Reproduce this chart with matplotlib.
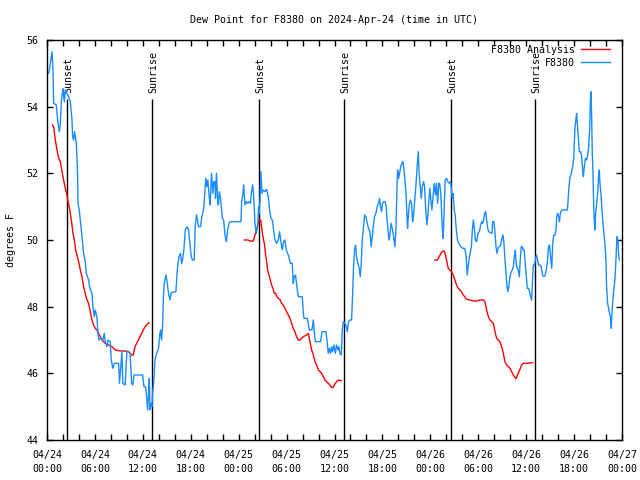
import matplotlib
matplotlib.use('Agg')
import matplotlib.pyplot as plt
from matplotlib.ticker import MultipleLocator

plt.rcParams['font.family'] = 'DejaVu Sans Mono'
plt.rcParams['font.size'] = 7.2

# hours since 2024-04-24 00:00 UTC
blue_hours = [
    0.21, 0.42, 0.54, 0.63, 0.75, 0.83, 1.17, 1.33, 1.54, 1.67, 1.79, 2.0, 2.17, 2.29, 2.5, 2.71, 2.92,
    3.13, 3.21, 3.33, 3.46, 3.67, 3.83, 3.88, 4.04, 4.17, 4.38, 4.58, 4.79, 4.92, 5.21, 5.33, 5.63,
    5.75, 5.92, 6.04, 6.25, 6.38, 6.5, 6.75, 7.0, 7.17, 7.29, 7.5, 7.63, 7.92, 8.04, 8.25, 8.42, 8.96,
    9.08, 9.38, 9.5, 9.79, 10.0, 10.21, 10.4, 10.6, 10.75, 10.9, 11.97, 12.14, 12.35, 12.47, 12.6,
    12.72, 12.81, 12.89, 13.02, 13.14, 13.22, 13.35, 13.52, 13.72, 13.97, 14.14, 14.22, 14.35, 14.47,
    14.56, 14.68, 14.89, 15.06, 15.22, 15.39, 15.56, 16.14, 16.31, 16.52, 16.72, 16.85, 16.97, 17.14,
    17.31, 17.56, 17.72, 17.89, 18.06, 18.22, 18.43, 18.56, 18.72, 18.85, 18.97, 19.22, 19.39, 19.56,
    19.68, 19.89, 20.02, 20.14, 20.31, 20.43, 20.6, 20.77, 20.89, 21.02, 21.1, 21.22, 21.39,
    21.46, 21.58, 21.71, 21.83, 21.96, 22.12, 22.29, 22.46, 22.62, 22.79, 22.96, 24.29, 24.37, 24.54,
    24.62, 24.79, 24.96, 25.12, 25.29, 25.46, 25.62, 25.75, 25.87, 26.04, 26.21, 26.37, 26.5, 26.58,
    26.67, 26.79, 26.92, 27.08, 27.29, 27.5, 27.71, 27.87, 28.04, 28.21, 28.37, 28.54, 28.75, 28.96,
    29.12, 29.29, 29.46, 29.62, 29.79, 29.96, 30.12, 30.29, 30.46, 30.71, 30.83, 30.96, 31.12, 31.29,
    31.46, 31.96, 32.1, 32.18, 32.6, 32.85, 33.18, 33.35, 33.45, 33.6, 34.26, 34.43, 34.93, 35.1,
    35.22, 35.35, 35.51, 35.64, 35.76, 35.93, 36.1, 36.26, 36.43, 36.55, 36.68, 36.85, 36.97, 37.1,
    37.26, 37.43, 37.6, 37.76, 37.93, 38.14, 38.26, 38.39, 38.51, 38.64, 38.76, 38.93, 39.1, 39.22,
    39.35, 39.47, 39.6, 39.76, 39.93, 40.1, 40.26, 40.43, 40.6, 40.72, 40.85, 41.01, 41.18, 41.35,
    41.51, 41.64, 41.76, 41.89, 42.01, 42.18, 42.34, 42.47, 42.57, 42.7, 42.82, 42.95, 43.07, 43.24,
    43.4, 43.57, 43.7, 43.82, 43.9, 44.03, 44.15, 44.28, 44.45, 44.57, 44.7, 44.82, 44.95, 45.07,
    45.15, 45.24, 45.36, 45.49, 45.65, 45.78, 45.9, 46.07, 46.2, 46.32, 46.49, 46.61, 46.74, 46.86,
    46.99, 47.15, 47.28, 47.4, 47.57, 47.7, 47.82, 47.95, 48.07, 48.2, 48.32, 48.49, 48.65, 48.78,
    48.9, 49.07, 49.2, 49.32, 49.49, 49.61, 49.74, 49.86, 50.03, 50.2, 50.36, 50.53, 50.65, 50.74,
    50.86, 50.99, 51.11, 51.24, 51.41, 51.57, 51.82, 52.07, 52.32, 52.49, 52.61, 52.74, 52.9,
    53.14, 53.26, 53.39, 53.51, 53.64, 53.8, 53.97, 54.14, 54.3, 54.43, 54.55, 54.68, 54.8, 54.93,
    55.05, 55.18, 55.3, 55.72, 55.8, 55.97, 56.1, 56.22, 56.35, 56.47, 56.64, 56.8, 56.97, 57.1,
    57.22, 57.35, 57.47, 57.6, 57.72, 57.85, 57.97, 58.14, 58.26, 58.39, 58.51, 58.64, 58.76, 58.89,
    59.01, 59.14, 59.26, 59.39, 59.51, 59.64, 59.76, 59.89, 60.01, 60.14, 60.3, 60.43, 60.55, 60.68,
    60.8, 60.89, 61.05, 61.18, 61.3, 61.43, 61.55, 61.72, 61.89, 62.05, 62.22, 62.39, 62.55, 62.68,
    62.8, 62.93, 62.99, 63.1, 63.2, 63.32, 63.45, 63.61, 63.74, 63.82, 63.95, 64.07, 64.16, 64.28,
    64.45, 65.16, 65.24, 65.36, 65.49, 65.61, 65.74, 65.86, 65.95, 66.03, 66.11, 66.24, 66.32, 66.41,
    66.53, 66.66, 66.82, 66.95, 67.07, 67.16, 67.28, 67.41, 67.57, 67.7, 67.82, 67.95, 68.03, 68.11,
    68.2, 68.28, 68.36, 68.45, 68.53, 68.61, 68.7, 68.82, 68.95, 69.07, 69.16, 69.24, 69.36, 69.49,
    69.61, 69.74, 69.86, 69.99, 70.07, 70.2, 70.32, 70.45, 70.57, 70.66, 70.74, 70.86, 70.99, 71.11,
    71.24, 71.37, 71.49, 71.57, 71.66,
]
blue_dewpt = [
    55.0, 55.3, 55.5, 55.65, 55.1, 54.1, 54.05, 53.6, 53.25, 53.5, 54.15, 54.55, 54.15, 54.5, 54.4, 54.3, 54.15,
    53.6, 53.1, 53.0, 53.25, 52.9, 52.0, 51.1, 50.9, 50.6, 50.1, 49.6, 49.35, 49.0, 48.8, 48.6, 48.4,
    48.0, 47.7, 47.9, 47.7, 47.2, 47.0, 47.05, 47.0, 47.2, 46.95, 46.8, 47.0, 46.95, 46.4, 46.15, 46.3, 46.3,
    45.7, 46.65, 45.7, 45.65, 46.65, 46.65, 46.6, 45.7, 45.65, 45.95, 45.95, 45.6, 45.6, 45.3, 44.9,
    45.4, 45.85, 44.9, 45.1, 45.0, 45.4, 45.7, 46.4, 46.6, 46.75, 47.2, 47.3, 47.0, 47.4,
    48.2, 48.7, 48.95, 48.7, 48.4, 48.2, 48.42, 48.45, 49.1, 49.5, 49.6, 49.3, 49.4, 49.7,
    50.3, 50.4, 50.3, 49.9, 49.5, 49.4, 49.4, 50.4, 50.75, 50.6, 50.4, 50.4, 50.7, 50.85,
    51.15, 51.85, 51.6, 51.8, 51.3, 51.05, 52.0, 51.4, 51.75, 51.75, 51.25, 52.0, 51.1,
    51.05, 51.45, 51.3, 51.0, 50.65, 50.6, 50.15, 49.95, 50.3, 50.5, 50.55, 50.55, 51.15, 51.4,
    51.65, 51.05, 51.15, 51.1, 51.15, 51.1, 51.45, 51.65, 51.35, 50.5, 50.2, 50.45, 51.0, 50.8,
    51.2, 52.05, 51.4, 51.5, 51.45, 51.52, 51.3, 50.9, 50.65, 50.6, 50.3, 50.0, 49.9, 50.0,
    50.25, 49.95, 49.7, 49.95, 50.0, 49.7, 49.6, 49.5, 49.3, 49.3, 48.7, 48.9, 48.95, 48.6,
    48.3, 48.3, 47.8, 47.65, 47.65, 47.3, 47.3, 47.6, 47.3, 46.95, 46.95, 47.25, 47.25, 46.9,
    46.6, 46.75, 46.6, 46.8, 46.65, 46.85, 46.6, 46.85, 46.7, 46.8, 46.6, 46.55, 47.3, 47.55,
    47.5, 47.45, 47.25, 47.55, 47.6, 47.6, 48.3, 49.2, 49.7, 49.85, 49.5, 49.3, 49.15, 48.9,
    49.3, 50.0, 50.3, 50.75, 50.7, 50.5, 50.35, 50.25, 49.8, 50.1, 50.4, 50.7, 50.8, 51.0,
    51.1, 51.25, 51.0, 50.85, 51.1, 51.15, 51.15, 51.0, 50.65, 50.3, 50.0, 50.15, 50.5, 50.35,
    50.1, 49.8, 50.4, 51.55, 52.1, 51.85, 52.0, 52.2, 52.3, 52.35, 52.1, 51.8, 51.4, 50.75,
    50.35, 50.7, 51.05, 51.2, 51.1, 50.55, 50.75, 51.25, 51.65, 52.1, 52.65, 51.95, 51.6, 51.25,
    51.6, 51.75, 51.6, 51.0, 50.45, 50.75, 51.2, 51.55, 51.2, 50.9, 51.25, 51.7, 51.35, 51.7,
    51.1, 51.7, 51.65, 51.35, 50.4, 50.05, 51.0, 51.8, 51.85, 51.75, 51.7, 51.75, 51.5, 51.25,
    51.4, 50.9, 50.75, 50.35, 50.0, 49.9, 49.8, 49.75, 49.75, 49.5, 48.95, 49.2, 49.5,
    49.8, 50.3, 50.6, 50.35, 50.0, 49.95, 50.2, 50.25, 50.45, 50.55, 50.5, 50.6, 50.8, 50.85,
    50.6, 50.35, 50.25, 50.2, 50.55, 50.55, 50.2, 49.8, 49.6, 49.75, 49.8, 49.85, 50.05, 50.15,
    49.9, 49.4, 49.0, 48.6, 48.45, 48.65, 48.9, 49.05, 49.1, 49.2, 49.5, 49.7, 49.25, 49.15,
    49.1, 48.9, 49.4, 49.8, 49.8, 49.7, 49.7, 49.25, 48.95, 48.55, 48.55, 48.45, 48.3, 48.2,
    48.8, 49.25, 49.25, 49.45, 49.55, 49.4, 49.25, 49.25, 49.2, 48.95, 48.9, 48.95, 49.15, 49.4,
    49.8, 49.85, 49.65, 49.4, 49.15, 49.9, 50.15, 50.15, 50.3, 50.7, 50.8, 50.7, 50.55, 50.8,
    50.9, 50.9, 51.15, 51.6, 51.9, 51.95, 52.1, 52.25, 52.45, 52.95, 53.35, 53.65, 53.8, 53.5,
    53.1, 52.65, 52.65, 52.5, 52.1, 51.9, 52.2, 52.45, 52.4, 52.55, 52.8, 53.3, 54.1, 54.45,
    53.7, 52.6, 52.1, 51.05, 50.6, 50.3, 50.8, 51.1, 51.4, 51.9, 52.1, 51.7, 51.4, 50.95,
    50.5, 50.2, 49.9, 49.4, 48.6, 48.1, 47.95, 47.8, 47.65, 47.35, 47.8, 48.2, 48.55, 48.8,
    49.4, 50.1, 50.0, 49.6, 49.4,
]

# analysis series, three separate runs
analysis_runs_hours = [
    [0.67, 0.83, 1.04, 1.25, 1.46, 1.67, 1.88, 2.08, 2.29, 2.5, 2.63, 2.75, 2.92, 3.13, 3.25, 3.42,
     3.58, 3.75, 3.96, 4.17, 4.38, 4.58, 4.79, 5.0, 5.21, 5.42, 5.63, 5.83, 6.04, 6.25, 6.46, 6.67,
     6.88, 7.08, 7.29, 7.71, 8.13, 8.54, 9.17, 9.79, 10.21, 10.6, 10.8, 11.02, 11.43, 11.85, 12.27, 12.77],
    [24.71, 25.21, 25.37, 25.83, 26.04, 26.29, 26.46, 26.58, 26.75, 26.87, 27.0, 27.12, 27.25, 27.37,
     27.5, 27.62, 27.79, 27.96, 28.12, 28.29, 28.46, 28.62, 28.79, 28.96, 29.21, 29.37, 29.58, 29.79,
     30.0, 30.21, 30.42, 30.62, 30.83, 31.04, 31.25, 31.46, 31.68, 32.1, 32.51, 32.72, 32.93, 33.14,
     33.35, 33.56, 33.76, 33.97, 34.18, 34.39, 34.6, 34.81, 35.01, 35.22, 35.43, 35.64, 35.8, 36.06,
     36.26, 36.47, 36.85],
    [48.57, 48.9, 49.11, 49.32, 49.49, 49.74, 49.9, 50.07, 50.24, 50.45, 50.65, 50.86, 51.07, 51.28,
     51.49, 51.7, 51.9, 52.11, 52.32, 52.53, 52.95, 53.39, 53.8, 54.22, 54.64, 54.84, 55.05, 55.26,
     55.47, 55.68, 55.89, 56.1, 56.3, 56.51, 56.72, 56.93, 57.14, 57.35, 57.55, 57.76, 57.97, 58.18,
     58.39, 58.72, 59.01, 59.22, 59.43, 59.64, 60.05, 60.8],
]
analysis_runs_dewpt = [
    [53.45, 53.4, 53.0, 52.7, 52.45, 52.35, 52.05, 51.8, 51.55, 51.35, 51.15, 51.05, 50.8, 50.45, 50.2, 50.0,
     49.7, 49.55, 49.35, 49.1, 48.9, 48.6, 48.4, 48.2, 48.1, 47.85, 47.6, 47.45, 47.35, 47.3, 47.2, 47.1,
     47.0, 46.95, 46.9, 46.85, 46.8, 46.7, 46.67, 46.67, 46.65, 46.55, 46.55, 46.8, 47.0, 47.2, 47.4, 47.52],
    [50.0, 50.0, 49.97, 49.97, 50.15, 50.35, 50.5, 50.6, 50.6, 50.4, 50.15, 50.0, 49.85, 49.55,
     49.35, 49.1, 48.95, 48.8, 48.65, 48.55, 48.4, 48.4, 48.3, 48.25, 48.2, 48.1, 48.05, 47.95,
     47.85, 47.75, 47.65, 47.5, 47.35, 47.25, 47.1, 47.0, 47.0, 47.1, 47.15, 47.2, 46.95, 46.7,
     46.55, 46.35, 46.25, 46.1, 46.05, 46.0, 45.9, 45.8, 45.75, 45.7, 45.65, 45.58, 45.57, 45.68,
     45.75, 45.8, 45.78],
    [49.4, 49.4, 49.5, 49.6, 49.65, 49.67, 49.55, 49.35, 49.15, 49.1, 49.05, 48.95, 48.8, 48.65,
     48.55, 48.5, 48.45, 48.35, 48.3, 48.22, 48.2, 48.17, 48.17, 48.2, 48.2, 48.15, 47.9, 47.7,
     47.6, 47.55, 47.5, 47.25, 47.05, 47.0, 46.95, 46.8, 46.6, 46.35, 46.25, 46.2, 46.15, 46.05,
     45.95, 45.84, 46.0, 46.12, 46.25, 46.3, 46.3, 46.32],
]

sunset_hours = [2.54, 26.58, 50.62]
sunrise_hours = [13.19, 37.23, 61.14]

x_tick_hours = list(range(0, 73, 6))
x_tick_labels = ['04/24\n00:00', '04/24\n06:00', '04/24\n12:00', '04/24\n18:00',
                 '04/25\n00:00', '04/25\n06:00', '04/25\n12:00', '04/25\n18:00',
                 '04/26\n00:00', '04/26\n06:00', '04/26\n12:00', '04/26\n18:00',
                 '04/27\n00:00']

fig = plt.figure(figsize=(6.4, 4.8), dpi=100)
ax = fig.add_axes([47 / 640, 40 / 480, 575 / 640, 400 / 480])

for h in sunset_hours:
    ax.vlines(h, 44, 54.23, color='black', lw=1, zorder=1)
    ax.annotate('Sunset', xy=(h, 54.23), xytext=(1, 6), textcoords='offset pixels',
                rotation=90, ha='center', va='bottom')
for h in sunrise_hours:
    ax.vlines(h, 44, 54.23, color='black', lw=1, zorder=1)
    ax.annotate('Sunrise', xy=(h, 54.23), xytext=(1, 6), textcoords='offset pixels',
                rotation=90, ha='center', va='bottom')

for i, (hrs, vals) in enumerate(zip(analysis_runs_hours, analysis_runs_dewpt)):
    ax.plot(hrs, vals, color='#ff0000', lw=1, zorder=2,
            label='F8380 Analysis' if i == 0 else None)
ax.plot(blue_hours, blue_dewpt, color='#1a8cff', lw=1, zorder=3, label='F8380')

ax.set_xlim(0, 72)
ax.set_ylim(44, 56)
ax.set_xticks(x_tick_hours)
ax.set_xticklabels(x_tick_labels, linespacing=1.5)
ax.xaxis.set_minor_locator(MultipleLocator(2))
ax.set_yticks(range(44, 57, 2))
ax.tick_params(which='both', direction='in', top=True, right=True, length=4, width=1)
ax.tick_params(axis='x', pad=7.5)
ax.tick_params(axis='y', pad=6)
for s in ax.spines.values():
    s.set_linewidth(1)

ax.set_title('Dew Point for F8380 on 2024-Apr-24 (time in UTC)', fontsize=7.2, pad=12)
ax.set_ylabel('degrees F', labelpad=8)

ax.legend(loc='upper right', frameon=False, markerfirst=False, handlelength=2.9,
          handletextpad=0.6, labelspacing=0.3, borderaxespad=0, borderpad=0,
          bbox_to_anchor=(1 - 12 / 575, 1 - 5 / 400))

fig.savefig('out.png', dpi=100)
